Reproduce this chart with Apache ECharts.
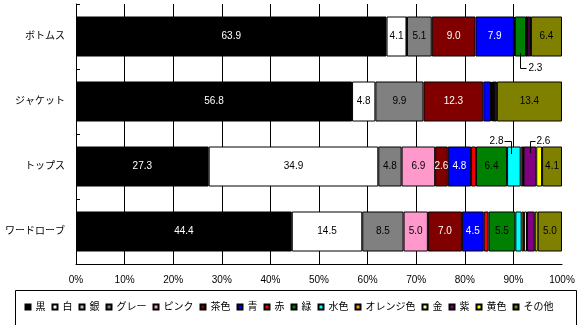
<!DOCTYPE html>
<html><head><meta charset="utf-8">
<script src="https://cdn.jsdelivr.net/npm/echarts@6/dist/echarts.min.js"></script>
<style>html,body{margin:0;padding:0;background:#fff}#c{width:578px;height:325px}</style>
</head><body><div id="c"></div>
<script>
const categories = ['ボトムス', 'ジャケット', 'トップス', 'ワードローブ'];
const seriesNames = ['黒', '白', '銀', 'グレー', 'ピンク', '茶色', '青', '赤', '緑', '水色', 'オレンジ色', '金', '紫', '黄色', 'その他'];
const black  = [63.9, 56.8, 27.3, 44.4];
const white  = [4.1, 4.8, 34.9, 14.5];
const silver = [0.1, 0, 0, 0];
const grey   = [5.1, 9.9, 4.8, 8.5];
const pink   = [0, 0, 6.9, 5.0];
const brown  = [9.0, 12.3, 2.6, 7.0];
const blue   = [7.9, 1.6, 4.8, 4.5];
const red    = [0.2, 0.2, 1.0, 1.0];
const green  = [2.3, 0.3, 6.4, 5.5];
const aqua   = [0.1, 0.1, 2.8, 1.3];
const orange = [0.1, 0, 0.5, 0.5];
const gold   = [0.1, 0.1, 0.1, 0.6];
const purple = [0.6, 0.5, 2.6, 1.6];
const yellow = [0.1, 0, 1.2, 0.6];
const other  = [6.4, 13.4, 4.1, 5.0];
const xTickLabels = ['0%', '10%', '20%', '30%', '40%', '50%', '60%', '70%', '80%', '90%', '100%'];

const seriesValues = [black, white, silver, grey, pink, brown, blue, red, green, aqua, orange, gold, purple, yellow, other];
const colors = ['#000000', '#FFFFFF', '#C0C0C0', '#808080', '#FF99CC', '#800000', '#0000FF', '#FF0000', '#008000', '#00FFFF', '#FF9900', '#FFFF99', '#800080', '#FFFF00', '#808000'];
const whiteText = { '黒': 1, '茶色': 1, '青': 1, '紫': 1 };
const insideMin = 4;
const insideExtra = [['茶色', 'トップス']];
const leaders = [
  { s: '緑', c: 'ボトムス', dir: 'below' },
  { s: '水色', c: 'トップス', dir: 'aboveLeft' },
  { s: '紫', c: 'トップス', dir: 'aboveRight' }
];
const FONT = '"Liberation Sans", "Noto Sans CJK JP", sans-serif';

const chart = echarts.init(document.getElementById('c'), null, { renderer: 'canvas' });

const series = seriesNames.map((name, si) => ({
  name: name,
  type: 'bar',
  stack: 'total',
  barWidth: 40,
  itemStyle: { color: colors[si], borderColor: '#000', borderWidth: 1 },
  label: {
    show: false,
    position: 'inside',
    fontSize: 10,
    fontFamily: FONT,
    color: whiteText[name] ? '#fff' : '#000',
    formatter: p => p.value.toFixed(1)
  },
  emphasis: { disabled: true },
  data: seriesValues[si].map((v, ci) => {
    if (!v) return null;
    const extra = insideExtra.some(e => e[0] === name && e[1] === categories[ci]);
    return { value: v, label: { show: v >= insideMin || extra } };
  })
}));

const legendBox = {
  type: 'rect', left: 13, top: 288, z: -1,
  shape: { width: 561, height: 35 },
  style: { fill: 'none', stroke: '#000', lineWidth: 1 }
};

chart.setOption({
  animation: false,
  grid: { left: 76, right: 16, top: 4, bottom: 61 },
  legend: {
    data: seriesNames,
    icon: 'rect',
    bottom: 13,
    left: 'center',
    itemWidth: 5,
    itemHeight: 5,
    itemGap: 6,
    padding: 0,
    selectedMode: false,
    textStyle: { fontSize: 10, fontFamily: FONT, color: '#000' }
  },
  xAxis: {
    type: 'value',
    min: 0, max: 100, interval: 10,
    axisLine: { show: true, lineStyle: { color: '#000', width: 1 } },
    axisTick: { show: false },
    splitLine: { show: true, showMaxLine: false, lineStyle: { color: '#000', width: 1 } },
    axisLabel: {
      fontSize: 10, fontFamily: FONT, color: '#000', margin: 11,
      formatter: v => xTickLabels[Math.round(v / 10)]
    }
  },
  yAxis: {
    type: 'category',
    data: categories,
    inverse: true,
    axisLine: { show: true, lineStyle: { color: '#000', width: 1 } },
    axisTick: { show: true, inside: true, length: 4, lineStyle: { color: '#000' } },
    axisLabel: { fontSize: 10, fontFamily: FONT, color: '#000', margin: 11 }
  },
  series: series,
  graphic: [legendBox]
});

// leader lines for small segments, positioned through the axes
const graphics = [];
const half = 20;
leaders.forEach(L => {
  const si = seriesNames.indexOf(L.s);
  const ci = categories.indexOf(L.c);
  let start = 0;
  for (let k = 0; k < si; k++) start += seriesValues[k][ci] || 0;
  const v = seriesValues[si][ci];
  const p = chart.convertToPixel({ gridIndex: 0 }, [start + v / 2, categories[ci]]);
  const cx = Math.round(p[0]) + 0.5, cy = Math.round(p[1]);
  let pts, tx, ty, align;
  if (L.dir === 'below') {
    const yb = cy + half + 11 + 0.5;
    pts = [[cx, cy + half - 4], [cx, yb], [cx + 6, yb]];
    tx = cx + 8; ty = yb; align = 'left';
  } else if (L.dir === 'aboveLeft') {
    const ya = cy - half - 6 + 0.5;
    pts = [[cx - 3, cy - half + 7], [cx - 3, ya], [cx - 10, ya]];
    tx = cx - 11; ty = ya; align = 'right';
  } else {
    const ya = cy - half - 6 + 0.5;
    pts = [[cx, cy - half + 6], [cx, ya], [cx + 5, ya]];
    tx = cx + 6; ty = ya; align = 'left';
  }
  graphics.push({ type: 'polyline', z: 100, shape: { points: pts }, style: { stroke: '#000', lineWidth: 1, fill: 'none' } });
  graphics.push({ type: 'text', z: 100, x: tx, y: ty, style: { text: v.toFixed(1), fontSize: 10, fontFamily: FONT, fill: '#000', align: align, verticalAlign: 'middle' } });
});
chart.setOption({ graphic: [legendBox].concat(graphics) });
</script></body></html>
